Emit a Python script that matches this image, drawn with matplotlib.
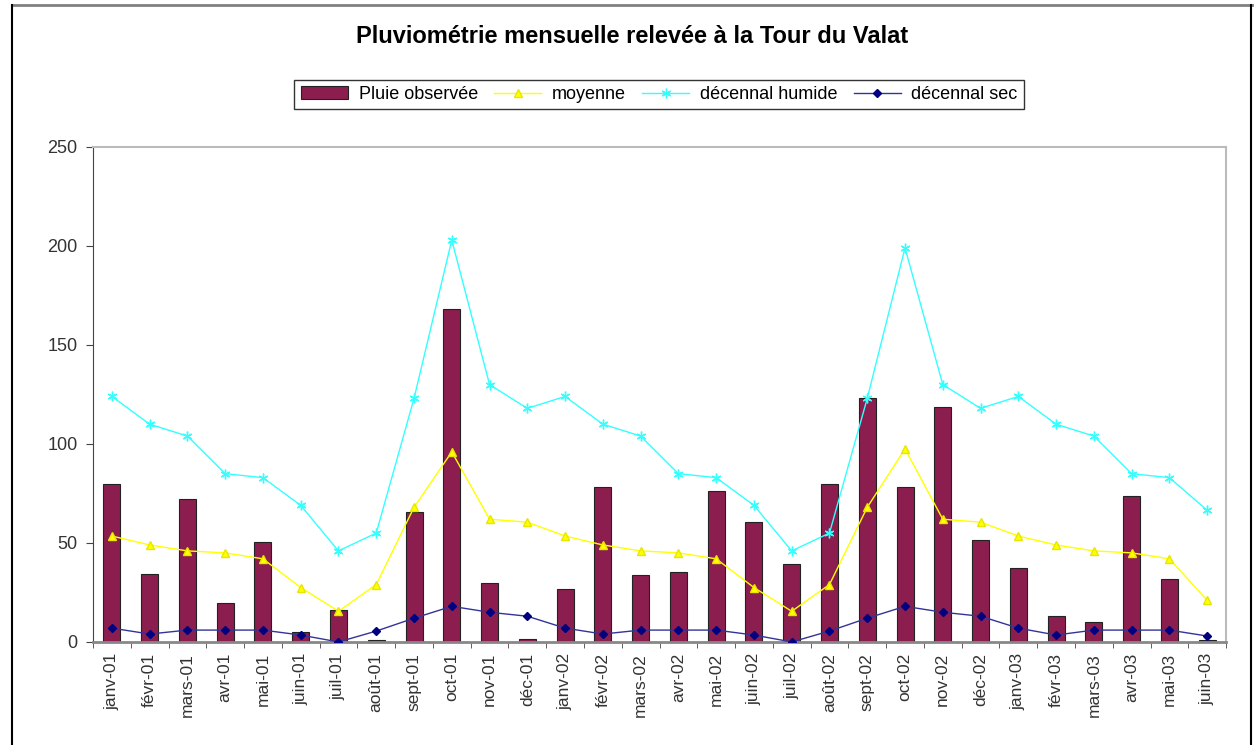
import numpy as np
import matplotlib
matplotlib.use("Agg")
import matplotlib.pyplot as plt
from matplotlib.lines import Line2D

plt.rcParams["font.family"] = ["Liberation Sans", "DejaVu Sans"]

months = ["janv-01", "févr-01", "mars-01", "avr-01", "mai-01", "juin-01",
          "juil-01", "août-01", "sept-01", "oct-01", "nov-01", "déc-01",
          "janv-02", "févr-02", "mars-02", "avr-02", "mai-02", "juin-02",
          "juil-02", "août-02", "sept-02", "oct-02", "nov-02", "déc-02",
          "janv-03", "févr-03", "mars-03", "avr-03", "mai-03", "juin-03"]

pluie = [80, 34.5, 72, 19.5, 50.5, 5, 16, 1, 65.5, 168,
         30, 1.5, 26.5, 78.5, 34, 35.5, 76, 60.5, 39.5, 80,
         123, 78.5, 118.5, 51.5, 37.5, 13, 10, 73.5, 32, 1]

moyenne = [53.5, 49, 46, 45, 42, 27.5, 15.5, 29, 68, 96,
           62, 60.5, 53.5, 49, 46, 45, 42, 27.5, 15.5, 29,
           68, 97.5, 62, 60.5, 53.5, 49, 46, 45, 42, 21]

humide = [124, 110, 104, 85, 83, 69, 46, 55, 123, 203,
          130, 118, 124, 110, 104, 85, 83, 69, 46, 55,
          123, 199, 130, 118, 124, 110, 104, 85, 83, 66.5]

sec = [7, 4, 6, 6, 6, 3.5, 0, 5.5, 12, 18,
       15, 13, 7, 4, 6, 6, 6, 3.5, 0, 5.5,
       12, 18, 15, 13, 7, 3.5, 6, 6, 6, 3]

x = np.arange(len(months))

fig = plt.figure(figsize=(12.58, 7.45), dpi=100)
ax = fig.add_axes([0.0739, 0.1383, 0.9007, 0.6644])

bars = ax.bar(x, pluie, width=0.45, color="#8B1E4E", edgecolor="#222222",
              linewidth=0.8, zorder=2)
l1, = ax.plot(x, moyenne, color="#FFFF00", lw=1.0, marker="^", ms=6,
              mfc="#FFFF00", mec="#E6E600", zorder=3)
l2, = ax.plot(x, humide, color="#33FFFF", lw=1.0, marker=(6, 2, 0), ms=7,
              mec="#33FFFF", mew=1.0, zorder=3)
l3, = ax.plot(x, sec, color="#333399", lw=1.0, marker="D", ms=4.5,
              mfc="#000080", mec="#000080", zorder=4)

ax.set_xlim(-0.5, len(months) - 0.5)
ax.set_ylim(0, 250)
ax.set_yticks(np.arange(0, 251, 50))
ax.set_xticks(x)
ax.set_xticklabels(months, rotation=90, fontsize=12.5, color="#333333")
ax.tick_params(axis="x", length=0, pad=8)
ax.set_xticks(np.arange(-0.5, len(months)), minor=True)
ax.tick_params(axis="x", which="minor", length=4, direction="out",
               color="#444444")
ax.tick_params(axis="y", length=5, direction="out", labelsize=13,
               labelcolor="#333333", color="#444444", pad=6)

for side in ["top", "right"]:
    ax.spines[side].set_color("#BBBBBB")
    ax.spines[side].set_linewidth(1.5)
ax.spines["left"].set_color("#444444")
ax.spines["bottom"].set_color("#888888")
ax.spines["bottom"].set_linewidth(2)

fig.text(0.5025, 0.951, "Pluviométrie mensuelle relevée à la Tour du Valat",
         ha="center", va="center", fontsize=17, fontweight="bold")

leg = fig.legend([bars, l1, l2, l3],
                 ["Pluie observée", "moyenne", "décennal humide", "décennal sec"],
                 loc="center", bbox_to_anchor=(0.524, 0.873), ncol=4,
                 fontsize=13, frameon=True, fancybox=False,
                 edgecolor="#000000", handlelength=2.6, columnspacing=0.9,
                 handletextpad=0.6, borderpad=0.35)
leg.get_frame().set_linewidth(1.0)

# outer chart border
fig.add_artist(Line2D([0.0095, 0.995], [0.993, 0.993], color="#808080", lw=2))
fig.add_artist(Line2D([0.0095, 0.0095], [0.0, 0.993], color="#000000", lw=1.5))
fig.add_artist(Line2D([0.9945, 0.9945], [0.0, 0.993], color="#000000", lw=1.5))

fig.savefig("out.png", dpi=100)
